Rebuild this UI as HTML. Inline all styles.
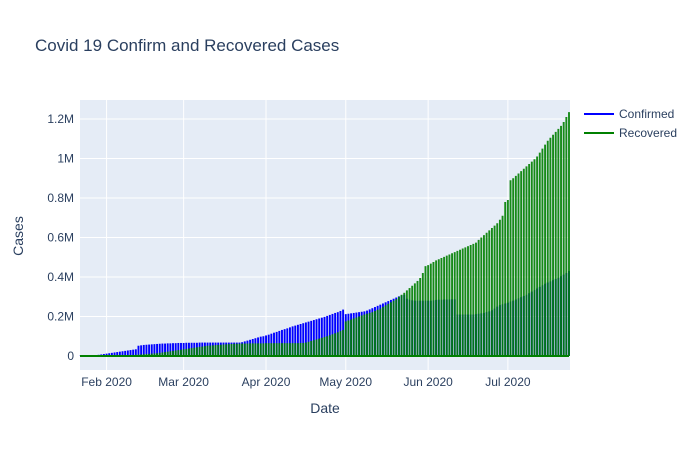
<!DOCTYPE html>
<html><head><meta charset="utf-8"><style>
body{margin:0;background:#fff;font-family:"Liberation Sans",sans-serif;}
svg text{font-family:"Liberation Sans",sans-serif;fill:#2a3f5f;}
</style></head><body>
<svg id="chart" width="700" height="450">
<rect x="0" y="0" width="700" height="450" fill="#fff"/>
<rect x="80" y="100" width="490" height="270" fill="#e5ecf6"/>
<g id="grid"></g><g id="marks"></g><g id="axes"></g>
<text x="35" y="51" font-size="17">Covid 19 Confirm and Recovered Cases</text>
<text x="325" y="413" font-size="14" text-anchor="middle">Date</text>
<text x="23" y="236" font-size="14" text-anchor="middle" transform="rotate(-90 23 236)">Cases</text>
<g>
<g><line x1="584" y1="114" x2="614" y2="114" stroke="#0000ff" stroke-width="2"/><text x="619" y="118" font-size="12">Confirmed</text></g>
<g><line x1="584" y1="133" x2="614" y2="133" stroke="#008000" stroke-width="2"/><text x="619" y="137" font-size="12">Recovered</text></g>
</g>
</svg>
<script>
const confirmed=[1,1,2,2,3,4,5,6,8,10,
12,14,16,18,20,22,24,26,28,30,32,
34,52,54,56,57,58,59,60,61,62,63,63,64,64,65,65,66,66,
66,67,67,67,67,67,68,68,68,68,68,68,68,68,68,68,68,68,68,68,68,68,
70,74,78,82,86,90,94,98,100,104,
108,113,118,122,127,132,136,140,145,150,154,158,162,166,170,174,178,182,186,190,194,198,203,208,213,218,222,228,235,
212,214,216,218,220,222,224,226,230,236,242,248,254,260,266,272,278,284,290,296,302,306,310,290,285,282,280,280,280,280,280,
280,280,282,284,285,285,286,286,286,287,287,210,210,210,210,210,210,210,212,214,216,218,222,226,232,240,250,258,262,266,
270,276,280,286,292,298,304,310,318,326,334,342,350,358,366,372,378,384,390,396,404,412,420,430];
const recovered=[0,0,0,0,0,0,0,0,0,0,
0,0,1,1,1,2,2,3,3,4,5,
6,7,8,9,10,11,12,13,14,16,18,20,22,24,26,28,30,32,
34,36,38,40,42,44,46,48,50,52,53,54,55,56,57,58,59,60,61,62,62,62,
63,63,63,64,64,64,64,64,64,65,
65,65,65,65,65,65,65,65,65,65,65,65,66,66,68,72,76,80,84,88,92,96,100,105,110,115,120,126,132,
175,180,185,190,195,200,205,210,214,218,222,228,234,240,248,256,264,272,280,288,300,310,320,332,344,356,368,380,395,420,455,
460,468,476,484,490,496,502,508,514,520,526,532,538,544,550,556,562,568,574,588,600,612,624,636,648,660,672,690,710,780,
790,890,900,912,924,936,948,960,972,984,996,1010,1030,1050,1070,1090,1105,1120,1135,1150,1165,1185,1210,1235];
const yTicks=[0,200,400,600,800,1000,1200];
const yTickLabels=["0","0.2M","0.4M","0.6M","0.8M","1M","1.2M"];
const xTickDays=[10,39,70,100,131,161];
const xTickLabels=["Feb 2020","Mar 2020","Apr 2020","May 2020","Jun 2020","Jul 2020"];
const NS="http://www.w3.org/2000/svg";
function X(d){return 80+d*(489/184);}
function Y(v){return 356-v*(237/1200);}
function mk(tag,attrs,parent){const e=document.createElementNS(NS,tag);for(const k in attrs)e.setAttribute(k,attrs[k]);parent.appendChild(e);return e;}
const grid=document.getElementById('grid'),marks=document.getElementById('marks'),axes=document.getElementById('axes');
yTicks.forEach((t,i)=>{
 const l=mk('line',{x1:80,x2:570,y1:Y(t),y2:Y(t),stroke:'#fff','stroke-width':1},grid);
 
 
 const tx=mk('text',{x:74,y:Y(t)+4,'font-size':12,'text-anchor':'end'},axes);
 tx.textContent=yTickLabels[i];
 
 
});
xTickDays.forEach((d,i)=>{
 const l=mk('line',{x1:X(d),x2:X(d),y1:100,y2:370,stroke:'#fff','stroke-width':1},grid);
 
 
 const tx=mk('text',{x:X(d),y:386,'font-size':12,'text-anchor':'middle'},axes);
 tx.textContent=xTickLabels[i];
 
 
});
function series(arr,color,name,op){
 const g=mk('g',{},marks);
 
 
 const b=mk('line',{x1:X(0),x2:X(arr.length-1),y1:Y(0),y2:Y(0),stroke:color,'stroke-width':2},g);
 
 
 arr.forEach((v,d)=>{
  const l=mk('line',{x1:X(d),x2:X(d),y1:Y(0),y2:Y(v),stroke:color,'stroke-width':1.9,'stroke-opacity':op},g);
  
  
 });
}
series(confirmed,'#0000ff','confirmed',1);
series(recovered,'#008000','recovered',0.9);
</script>
</body></html>
